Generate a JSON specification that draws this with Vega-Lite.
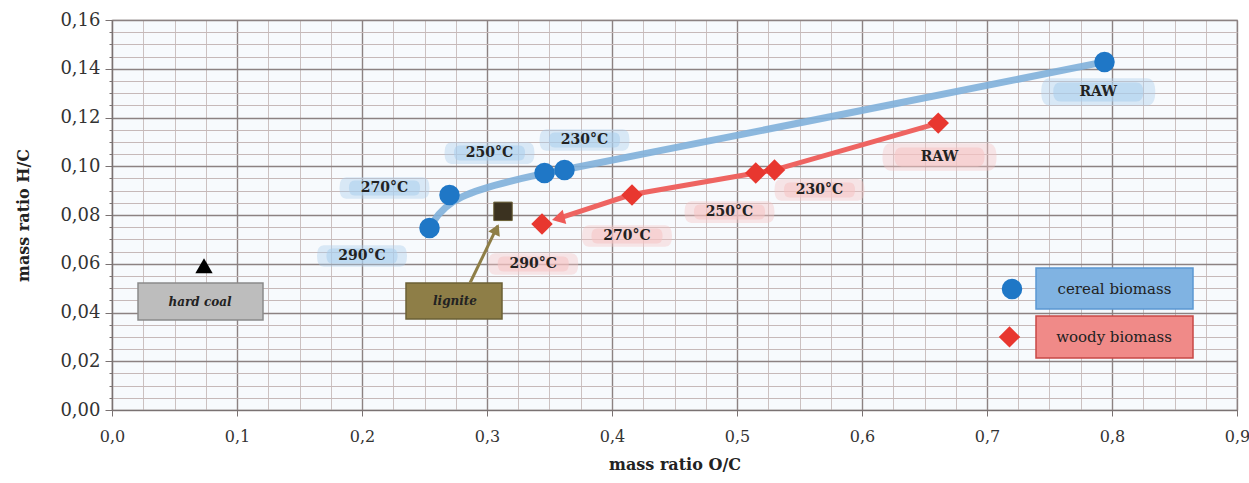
{
  "$schema": "https://vega.github.io/schema/vega-lite/v6.json",
  "width": 1125,
  "height": 390,
  "autosize": {"type": "none"},
  "padding": {"left": 112, "top": 20, "right": 12, "bottom": 73},
  "background": "white",
  "config": {
    "view": {"fill": "#f7fafd", "stroke": "#9a9292", "strokeWidth": 1.2},
    "font": "DejaVu Serif"
  },
  "encoding": {
    "x": {
      "field": "x", "type": "quantitative",
      "scale": {"domain": [0, 0.9], "nice": false, "zero": false},
      "axis": {
        "title": "mass ratio O/C",
        "titleFont": "DejaVu Serif", "titleFontSize": 16, "titleFontWeight": "bold", "titleColor": "#222", "titlePadding": 12,
        "values": [0,0.025,0.05,0.075,0.1,0.125,0.15,0.175,0.2,0.225,0.25,0.275,0.3,0.325,0.35,0.375,0.4,0.425,0.45,0.475,0.5,0.525,0.55,0.575,0.6,0.625,0.65,0.675,0.7,0.725,0.75,0.775,0.8,0.825,0.85,0.875,0.9],
        "labelExpr": "abs(datum.value*10 - round(datum.value*10)) < 0.000001 ? replace(format(datum.value, '.1f'), '.', ',') : ''",
        "labelFont": "DejaVu Serif", "labelFontSize": 16, "labelColor": "#333", "labelPadding": 12,
        "labelOverlap": false, "labelFlush": false,
        "domainColor": "#7a7272", "domainWidth": 1.2,
        "tickColor": "#7a7272",
        "tickSize": {"condition": {"test": "abs(datum.value*10 - round(datum.value*10)) < 0.000001", "value": 6}, "value": 0},
        "grid": true,
        "gridColor": {"condition": {"test": "abs(datum.value*10 - round(datum.value*10)) < 0.000001", "value": "#8c8282"}, "value": "#cbc1c1"},
        "gridWidth": {"condition": {"test": "abs(datum.value*10 - round(datum.value*10)) < 0.000001", "value": 1.4}, "value": 1}
      }
    },
    "y": {
      "field": "y", "type": "quantitative",
      "scale": {"domain": [0, 0.16], "nice": false, "zero": false},
      "axis": {
        "title": "mass ratio H/C",
        "titleFont": "DejaVu Serif", "titleFontSize": 16, "titleFontWeight": "bold", "titleColor": "#222", "titlePadding": 28,
        "values": [0,0.005,0.01,0.015,0.02,0.025,0.03,0.035,0.04,0.045,0.05,0.055,0.06,0.065,0.07,0.075,0.08,0.085,0.09,0.095,0.1,0.105,0.11,0.115,0.12,0.125,0.13,0.135,0.14,0.145,0.15,0.155,0.16],
        "labelExpr": "abs(datum.value*50 - round(datum.value*50)) < 0.000001 ? replace(format(datum.value, '.2f'), '.', ',') : ''",
        "labelFont": "DejaVu Serif", "labelFontSize": 18, "labelColor": "#333", "labelPadding": 5,
        "labelOverlap": false, "labelFlush": false,
        "domainColor": "#7a7272", "domainWidth": 1.2,
        "tickColor": "#7a7272",
        "tickSize": {"condition": {"test": "abs(datum.value*50 - round(datum.value*50)) < 0.000001", "value": 7}, "value": 3},
        "grid": true,
        "gridColor": {"condition": {"test": "abs(datum.value*50 - round(datum.value*50)) < 0.000001", "value": "#8c8282"}, "value": "#c6b9b9"},
        "gridWidth": {"condition": {"test": "abs(datum.value*50 - round(datum.value*50)) < 0.000001", "value": 1.4}, "value": 1.2}
      }
    }
  },
  "layer": [
    {
      "data": {"values": [
        {"series": "cereal", "text": "RAW", "x": 0.789, "y": 0.1305},
        {"series": "cereal", "text": "230°C", "x": 0.378, "y": 0.1108},
        {"series": "cereal", "text": "250°C", "x": 0.302, "y": 0.1054},
        {"series": "cereal", "text": "270°C", "x": 0.218, "y": 0.0911},
        {"series": "cereal", "text": "290°C", "x": 0.2, "y": 0.0632},
        {"series": "woody", "text": "RAW", "x": 0.662, "y": 0.1038},
        {"series": "woody", "text": "230°C", "x": 0.566, "y": 0.0903},
        {"series": "woody", "text": "250°C", "x": 0.494, "y": 0.0812},
        {"series": "woody", "text": "270°C", "x": 0.412, "y": 0.0714},
        {"series": "woody", "text": "290°C", "x": 0.337, "y": 0.0599}
      ]},
      "layer": [
        {
          "mark": {"type": "point", "filled": true, "opacity": 0.4, "strokeWidth": 0,
            "shape": "M-0.85,-0.24 H0.85 Q1,-0.24 1,0 Q1,0.24 0.85,0.24 H-0.85 Q-1,0.24 -1,0 Q-1,-0.24 -0.85,-0.24 Z"},
          "encoding": {
            "color": {"field": "series", "type": "nominal", "scale": {"domain": ["cereal", "woody"], "range": ["#a9cdec", "#f6c3c3"]}, "legend": null},
            "size": {"condition": {"test": "datum.text === 'RAW'", "value": 13000}, "value": 8100}
          }
        },
        {
          "mark": {"type": "point", "filled": true, "opacity": 0.55, "strokeWidth": 0,
            "shape": "M-0.8,-0.2 H0.8 Q0.95,-0.2 0.95,0 Q0.95,0.2 0.8,0.2 H-0.8 Q-0.95,0.2 -0.95,0 Q-0.95,-0.2 -0.8,-0.2 Z"},
          "encoding": {
            "color": {"field": "series", "type": "nominal", "scale": {"domain": ["cereal", "woody"], "range": ["#a9cdec", "#f6c3c3"]}, "legend": null},
            "size": {"condition": {"test": "datum.text === 'RAW'", "value": 9000}, "value": 5600}
          }
        },
        {
          "mark": {"type": "text", "font": "DejaVu Serif", "fontSize": 14, "fontWeight": "bold", "color": "#222"},
          "encoding": {"text": {"field": "text"}}
        }
      ]
    },
    {
      "data": {"values": [
        {"box": "hard coal", "x": 0.0208, "x2": 0.1208, "y": 0.0521, "y2": 0.0369},
        {"box": "lignite", "x": 0.2352, "x2": 0.312, "y": 0.0521, "y2": 0.0373},
        {"box": "cereal biomass", "x": 0.7392, "x2": 0.8648, "y": 0.0583, "y2": 0.0414},
        {"box": "woody biomass", "x": 0.7392, "x2": 0.8648, "y": 0.0386, "y2": 0.0213}
      ]},
      "mark": {"type": "rect", "strokeWidth": 1.5},
      "encoding": {
        "x2": {"field": "x2"},
        "y2": {"field": "y2"},
        "fill": {"field": "box", "type": "nominal", "scale": {"domain": ["hard coal", "lignite", "cereal biomass", "woody biomass"], "range": ["#bdbdbd", "#8e7e47", "#80b3e2", "#f08a88"]}, "legend": null},
        "stroke": {"field": "box", "type": "nominal", "scale": {"domain": ["hard coal", "lignite", "cereal biomass", "woody biomass"], "range": ["#8a8a8a", "#6b6036", "#5b98d2", "#c84846"]}, "legend": null}
      }
    },
    {
      "data": {"values": [
        {"text": "hard coal", "x": 0.0704, "y": 0.0443},
        {"text": "lignite", "x": 0.2744, "y": 0.0447}
      ]},
      "mark": {"type": "text", "font": "DejaVu Serif", "fontSize": 12, "fontWeight": "bold", "fontStyle": "italic", "color": "#222"},
      "encoding": {"text": {"field": "text"}}
    },
    {
      "data": {"values": [
        {"text": "cereal biomass", "x": 0.802, "y": 0.0496},
        {"text": "woody biomass", "x": 0.8016, "y": 0.0298}
      ]},
      "mark": {"type": "text", "font": "DejaVu Serif", "fontSize": 15, "color": "#222"},
      "encoding": {"text": {"field": "text"}}
    },
    {
      "data": {"values": [
        {"x": 0.254, "y": 0.0747},
        {"x": 0.270, "y": 0.0882},
        {"x": 0.346, "y": 0.0972},
        {"x": 0.362, "y": 0.0985},
        {"x": 0.794, "y": 0.1428}
      ]},
      "mark": {"type": "line", "color": "#7fb0da", "strokeWidth": 7, "interpolate": "basis", "opacity": 0.9},
      "encoding": {}
    },
    {
      "data": {"values": [
        {"x": 0.356, "y": 0.0784},
        {"x": 0.415, "y": 0.0883},
        {"x": 0.515, "y": 0.0972},
        {"x": 0.530, "y": 0.0985},
        {"x": 0.661, "y": 0.1177}
      ]},
      "mark": {"type": "line", "color": "#ee6461", "strokeWidth": 5, "interpolate": "linear"},
      "encoding": {}
    },
    {
      "data": {"values": [{"x": 0.2864, "y": 0.0521}, {"x": 0.3085, "y": 0.0755}]},
      "mark": {"type": "line", "color": "#8e7e47", "strokeWidth": 3},
      "encoding": {}
    },
    {
      "data": {"values": [{"x": 0.3075, "y": 0.0742}]},
      "mark": {"type": "point", "shape": "triangle-up", "filled": true, "color": "#8e7e47", "size": 160, "angle": 25, "opacity": 1},
      "encoding": {}
    },
    {
      "data": {"values": [{"x": 0.357, "y": 0.0786}]},
      "mark": {"type": "point", "shape": "triangle-left", "filled": true, "color": "#ee5a57", "size": 220, "angle": 346, "opacity": 1},
      "encoding": {}
    },
    {
      "data": {"values": [
        {"x": 0.254, "y": 0.0747},
        {"x": 0.270, "y": 0.0882},
        {"x": 0.346, "y": 0.0972},
        {"x": 0.362, "y": 0.0985},
        {"x": 0.794, "y": 0.1428},
        {"x": 0.720, "y": 0.0496}
      ]},
      "mark": {"type": "point", "shape": "circle", "filled": true, "color": "#1f77c6", "size": 420, "opacity": 1},
      "encoding": {}
    },
    {
      "data": {"values": [
        {"x": 0.344, "y": 0.0763},
        {"x": 0.416, "y": 0.0882},
        {"x": 0.515, "y": 0.0972},
        {"x": 0.530, "y": 0.0985},
        {"x": 0.661, "y": 0.1177},
        {"x": 0.718, "y": 0.0300}
      ]},
      "mark": {"type": "point", "shape": "diamond", "filled": true, "color": "#e8372f", "size": 460, "opacity": 1},
      "encoding": {}
    },
    {
      "data": {"values": [{"x": 0.0736, "y": 0.0592}]},
      "mark": {"type": "point", "shape": "triangle-up", "filled": true, "color": "#000000", "size": 300, "opacity": 1},
      "encoding": {}
    },
    {
      "data": {"values": [{"x": 0.3128, "y": 0.0815}]},
      "mark": {"type": "point", "shape": "square", "filled": true, "color": "#3b3220", "stroke": "#6b6036", "strokeWidth": 1, "size": 340, "opacity": 1},
      "encoding": {}
    }
  ]
}
